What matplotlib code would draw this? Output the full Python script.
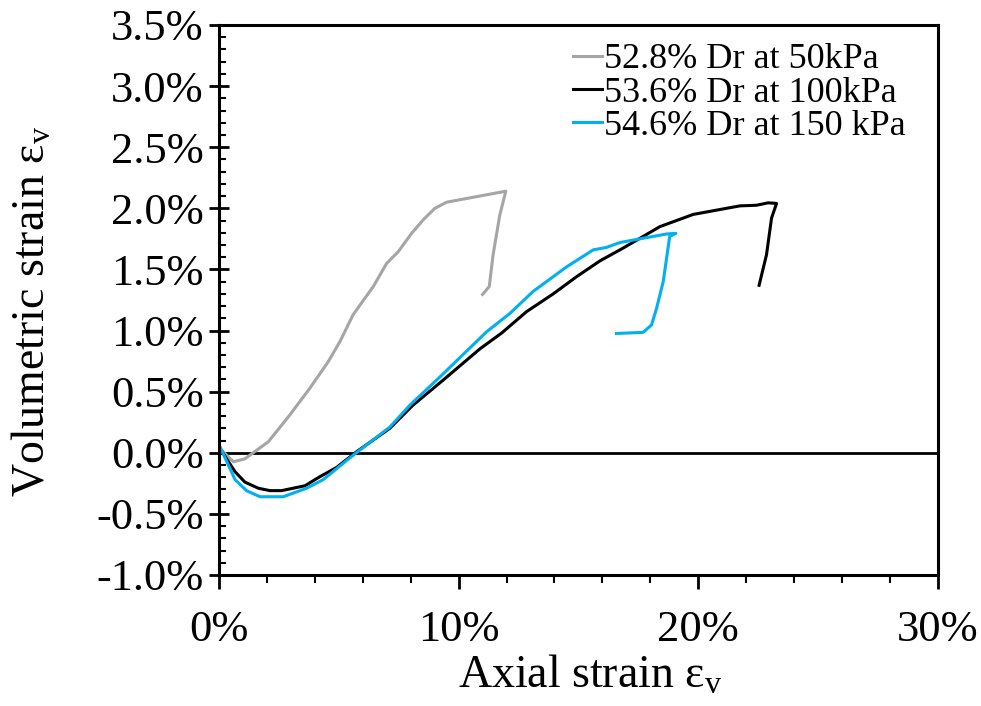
import numpy as np
import matplotlib
matplotlib.use("Agg")
import matplotlib.pyplot as plt
from matplotlib.ticker import MultipleLocator, FuncFormatter

# axial strain (%) / volumetric strain (%)
x_50 = [0.04, 0.6, 1.08, 2.06, 2.96, 3.8, 4.56, 5.05, 5.6, 6.44, 7.0, 7.48, 8.04, 8.52, 9.01, 9.5,
        11.97, 11.72, 11.44, 11.28, 11.0]
y_50 = [0.035, -0.074, -0.05, 0.09, 0.31, 0.53, 0.745, 0.91, 1.13, 1.36, 1.55, 1.645, 1.795, 1.905, 2.0, 2.05,
        2.14, 1.945, 1.62, 1.36, 1.295]

x_100 = [0.04, 0.67, 1.08, 1.64, 2.13, 2.61, 3.59, 4.21, 4.91, 5.74, 7.13, 8.1, 9.36, 10.89, 11.8, 12.84,
         13.95, 14.92, 15.9, 16.87, 17.7, 18.4, 19.79, 21.74, 22.43, 22.92, 23.27, 23.06, 22.85, 22.54]
y_100 = [0.035, -0.155, -0.24, -0.29, -0.31, -0.31, -0.27, -0.196, -0.12, 0.008, 0.2, 0.39, 0.595, 0.85, 0.98, 1.155,
         1.30, 1.44, 1.57, 1.675, 1.77, 1.85, 1.95, 2.02, 2.025, 2.045, 2.04, 1.92, 1.62, 1.37]

x_150 = [0.04, 0.67, 1.15, 1.71, 2.68, 3.66, 4.35, 5.6, 7.13, 7.97, 9.22, 11.17, 12.14, 13.11, 14.5, 15.62,
         16.17, 16.73, 17.56, 18.68, 19.07, 18.81, 18.54, 18.26, 18.05, 17.7, 16.59]
y_150 = [0.05, -0.22, -0.31, -0.36, -0.36, -0.29, -0.22, -0.02, 0.21, 0.39, 0.62, 0.99, 1.14, 1.32, 1.52, 1.66,
         1.68, 1.72, 1.75, 1.79, 1.795, 1.77, 1.40, 1.18, 1.045, 0.985, 0.976]

labels = ["52.8% Dr at 50kPa", "53.6% Dr at 100kPa", "54.6% Dr at 150 kPa"]
colors = ["#A5A5A5", "#000000", "#00B0F0"]

plt.rcParams['font.family'] = ['Liberation Serif', 'DejaVu Serif']
plt.rcParams['mathtext.fontset'] = 'stix'

fig = plt.figure(figsize=(9.81, 7.06), dpi=100)
ax = fig.add_axes([0.2232, 0.1856, 0.956 - 0.2232, 0.9646 - 0.1856])

ax.axhline(0, color="black", lw=2, zorder=1)
for xs, ys, c, lab in zip([x_50, x_100, x_150], [y_50, y_100, y_150], colors, labels):
    ax.plot(xs, ys, color=c, lw=2.2, label=lab, zorder=2)

ax.set_xlim(0, 30)
ax.set_ylim(-1.0, 3.5)

ax.xaxis.set_major_locator(MultipleLocator(10))
ax.xaxis.set_minor_locator(MultipleLocator(2))
ax.yaxis.set_major_locator(MultipleLocator(0.5))
ax.yaxis.set_minor_locator(MultipleLocator(0.1))
ax.xaxis.set_major_formatter(FuncFormatter(lambda v, p: "%d%%" % round(v)))
ax.yaxis.set_major_formatter(FuncFormatter(lambda v, p: "%.1f%%" % v))

ax.tick_params(axis="x", which="major", direction="out", length=10, width=2, labelsize=32, pad=15)
ax.tick_params(axis="x", which="minor", direction="out", length=6, width=1.5)
ax.tick_params(axis="y", which="major", direction="inout", length=14, width=2, labelsize=32, pad=4)
ax.tick_params(axis="y", which="minor", direction="in", length=5, width=1.5)

for s in ax.spines.values():
    s.set_linewidth(2.2)

ax.set_xlabel(r"Axial strain $\mathregular{\varepsilon_v}$", fontsize=33)
ax.xaxis.set_label_coords(0.517, -0.145)
ax.set_ylabel(r"Volumetric strain $\mathregular{\varepsilon_v}$", fontsize=33)
ax.yaxis.set_label_coords(-0.228, 0.48)

ax.legend(loc="upper right", frameon=False, fontsize=26, handlelength=0.8, handletextpad=0.05,
          labelspacing=0.0, borderaxespad=0.1, bbox_to_anchor=(0.98, 1.0))

fig.savefig("out.png", dpi=100)
